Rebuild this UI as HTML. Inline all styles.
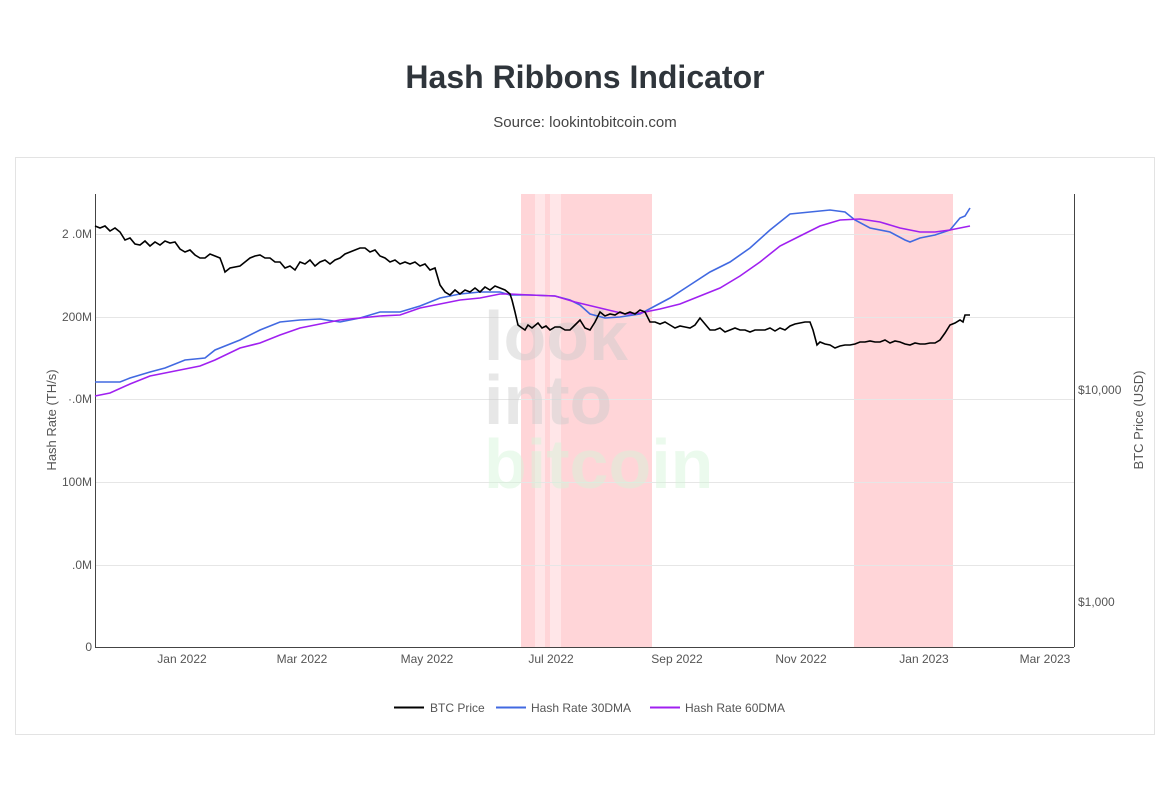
<!DOCTYPE html>
<html><head><meta charset="utf-8"><style>
body{margin:0;background:#fff;width:1170px;height:783px;overflow:hidden;font-family:"Liberation Sans",sans-serif}
</style></head><body>
<svg width="1170" height="783" xmlns="http://www.w3.org/2000/svg" font-family="Liberation Sans, sans-serif">
<text x="585" y="88" text-anchor="middle" font-size="32" font-weight="bold" fill="#2f353b">Hash Ribbons Indicator</text>
<text x="585" y="127" text-anchor="middle" font-size="15" fill="#444">Source: lookintobitcoin.com</text>
<rect x="15.5" y="157.5" width="1139" height="577" fill="#fff" stroke="#e3e3e3"/>
<g fill="#ffd5d8">
<rect x="521" y="194" width="14" height="453"/><rect x="535" y="194" width="10" height="453" fill="#ffe6e8"/>
<rect x="545" y="194" width="5" height="453"/><rect x="550" y="194" width="11" height="453" fill="#ffe6e8"/>
<rect x="561" y="194" width="91" height="453"/><rect x="854" y="194" width="99" height="453"/>
</g>
<g stroke="#e6e6e6" stroke-width="1">
<line x1="95" x2="1074" y1="234.5" y2="234.5"/><line x1="95" x2="1074" y1="317.5" y2="317.5"/>
<line x1="95" x2="1074" y1="399.5" y2="399.5"/><line x1="95" x2="1074" y1="482.5" y2="482.5"/>
<line x1="95" x2="1074" y1="565.5" y2="565.5"/>
</g>
<g font-weight="bold" font-size="70" opacity="0.45">
<text x="484" y="360" fill="#ccc">look</text>
<text x="484" y="424" fill="#ccc">into</text>
<text x="484" y="488" fill="#d4f5d8">bitcoin</text>
</g>
<line x1="95.5" y1="194" x2="95.5" y2="647" stroke="#444"/>
<line x1="1074.5" y1="194" x2="1074.5" y2="647" stroke="#444"/>
<line x1="95" y1="647.5" x2="1074" y2="647.5" stroke="#444"/>
<g font-size="12" fill="#555" text-anchor="end">
<text x="92" y="238">2 .0M</text><text x="92" y="321">200M</text><text x="92" y="403">·.0M</text>
<text x="92" y="486">100M</text><text x="92" y="569">.0M</text><text x="92" y="651">0</text>
</g>
<g font-size="12" fill="#555">
<text x="1078" y="394">$10,000</text><text x="1078" y="606">$1,000</text>
</g>
<g font-size="12" fill="#555" text-anchor="middle">
<text x="182" y="663">Jan 2022</text><text x="302" y="663">Mar 2022</text><text x="427" y="663">May 2022</text>
<text x="551" y="663">Jul 2022</text><text x="677" y="663">Sep 2022</text><text x="801" y="663">Nov 2022</text>
<text x="924" y="663">Jan 2023</text><text x="1045" y="663">Mar 2023</text>
</g>
<text transform="translate(56,420) rotate(-90)" text-anchor="middle" font-size="13" fill="#555">Hash Rate (TH/s)</text>
<text transform="translate(1143,420) rotate(-90)" text-anchor="middle" font-size="13" fill="#555">BTC Price (USD)</text>
<polyline fill="none" stroke="#4169e1" stroke-width="1.6" points="95,382 120,382 130,378 150,372 165,368 185,360 205,358 215,350 240,340 260,330 280,322 300,320 320,319 340,322 360,318 380,312 400,312 420,306 440,298 460,294 480,292 500,292 510,295 530,295 555,296 570,300 580,305 590,314 605,318 620,317 640,314 655,306 670,298 690,285 710,272 730,262 750,248 770,230 790,214 810,212 830,210 845,212 855,220 870,228 890,232 905,240 910,242 920,238 935,235 950,230 960,218 965,216 970,208"/>
<polyline fill="none" stroke="#a020f0" stroke-width="1.6" points="95,396 110,393 130,384 150,376 170,372 200,366 215,360 240,348 260,343 280,335 300,328 320,324 340,320 360,318 380,316 400,315 420,308 440,304 460,300 480,298 500,294 510,294 530,295 555,296 575,302 600,308 625,314 640,313 660,309 680,304 700,296 720,288 740,276 760,262 780,246 800,236 820,226 840,220 860,219 880,222 900,228 920,232 935,232 950,230 970,226"/>
<polyline fill="none" stroke="#000" stroke-width="1.6" points="95,226 100,228 105,226 110,231 115,228 120,232 125,240 130,238 135,244 140,245 145,241 150,246 155,242 160,245 165,241 170,243 175,242 180,249 185,252 190,250 195,255 200,258 205,258 210,254 215,256 220,258 223,266 225,272 230,268 240,266 245,262 250,258 255,256 260,255 265,258 270,258 275,262 280,262 285,268 290,266 295,270 300,262 305,264 310,260 315,266 320,262 325,260 330,264 335,260 340,258 345,254 350,252 355,250 360,248 365,248 370,252 375,250 380,256 385,258 390,262 395,260 400,264 405,262 410,264 415,262 420,266 425,264 430,270 435,268 440,285 445,292 450,295 455,290 460,294 465,290 470,292 475,288 480,292 485,287 490,290 495,286 500,288 505,290 510,294 512,300 515,312 518,325 522,328 525,330 528,325 532,328 538,323 542,328 546,326 550,330 555,327 560,327 565,330 570,330 575,325 580,320 585,328 590,330 595,322 600,312 605,316 610,314 615,315 620,312 625,314 630,312 635,314 640,310 645,312 650,322 655,322 660,324 665,322 670,325 675,328 680,326 685,327 690,328 695,325 700,318 705,324 710,330 715,330 720,328 725,332 730,330 735,328 740,330 745,330 750,332 755,330 760,330 765,330 770,328 775,331 780,328 785,330 790,326 795,324 800,323 805,322 810,322 813,330 817,345 820,342 825,344 830,345 835,348 840,346 845,345 850,345 855,344 860,342 865,342 870,341 875,342 880,342 885,340 890,343 895,341 900,342 905,344 910,345 915,343 920,344 925,344 930,343 935,343 940,340 945,333 950,325 955,323 960,320 963,322 965,315 970,315"/>
<g font-size="12" fill="#555">
<line x1="394" y1="707.5" x2="424" y2="707.5" stroke="#000" stroke-width="2"/><text x="430" y="712">BTC Price</text>
<line x1="496" y1="707.5" x2="526" y2="707.5" stroke="#4169e1" stroke-width="2"/><text x="531" y="712">Hash Rate 30DMA</text>
<line x1="650" y1="707.5" x2="680" y2="707.5" stroke="#a020f0" stroke-width="2"/><text x="685" y="712">Hash Rate 60DMA</text>
</g>
</svg>
</body></html>
